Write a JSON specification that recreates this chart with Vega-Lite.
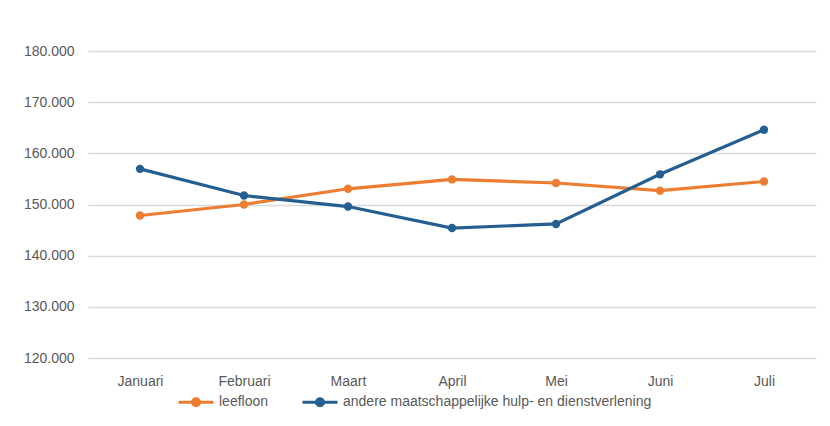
{
  "$schema": "https://vega.github.io/schema/vega-lite/v6.json",
  "autosize": "none",
  "width": 728,
  "height": 307,
  "padding": {"left": 88, "top": 51, "right": 14, "bottom": 68},
  "background": "white",
  "config": {
    "view": {"stroke": null},
    "font": "Liberation Sans",
    "axis": {"labelColor": "#595959", "labelFontSize": 14, "domain": false, "ticks": false, "title": null},
    "legend": {"labelColor": "#595959", "labelFontSize": 14, "labelLimit": 0}
  },
  "data": {
    "values": [
      {"maand": "Januari", "reeks": "leefloon", "aantal": 147850},
      {"maand": "Februari", "reeks": "leefloon", "aantal": 150000},
      {"maand": "Maart", "reeks": "leefloon", "aantal": 153070},
      {"maand": "April", "reeks": "leefloon", "aantal": 154900},
      {"maand": "Mei", "reeks": "leefloon", "aantal": 154200},
      {"maand": "Juni", "reeks": "leefloon", "aantal": 152700},
      {"maand": "Juli", "reeks": "leefloon", "aantal": 154500},
      {"maand": "Januari", "reeks": "andere maatschappelijke hulp- en dienstverlening", "aantal": 156970},
      {"maand": "Februari", "reeks": "andere maatschappelijke hulp- en dienstverlening", "aantal": 151760},
      {"maand": "Maart", "reeks": "andere maatschappelijke hulp- en dienstverlening", "aantal": 149600},
      {"maand": "April", "reeks": "andere maatschappelijke hulp- en dienstverlening", "aantal": 145400},
      {"maand": "Mei", "reeks": "andere maatschappelijke hulp- en dienstverlening", "aantal": 146200},
      {"maand": "Juni", "reeks": "andere maatschappelijke hulp- en dienstverlening", "aantal": 155900},
      {"maand": "Juli", "reeks": "andere maatschappelijke hulp- en dienstverlening", "aantal": 164600}
    ]
  },
  "encoding": {
    "x": {
      "field": "maand", "type": "nominal", "sort": null,
      "scale": {"paddingInner": 0, "paddingOuter": 0},
      "axis": {"labelAngle": 0, "labelPadding": 16, "grid": false}
    },
    "y": {
      "field": "aantal", "type": "quantitative",
      "scale": {"domain": [120000, 180000], "nice": false, "zero": false},
      "axis": {
        "values": [120000, 130000, 140000, 150000, 160000, 170000, 180000],
        "labelExpr": "replace(format(datum.value, ',.0f'), ',', '.')",
        "labelPadding": 14,
        "gridColor": "#d9d9d9", "gridWidth": 1.5
      }
    },
    "color": {
      "field": "reeks", "type": "nominal", "sort": null,
      "scale": {"domain": ["leefloon", "andere maatschappelijke hulp- en dienstverlening"], "range": ["#ED7D31", "#255E91"]},
      "legend": {
        "title": null, "orient": "none", "direction": "horizontal",
        "legendX": 89, "legendY": 332,
        "symbolType": "M-1,0H1M-0.2,0A0.2,0.2 0 1,1 0.2,0A0.2,0.2 0 1,1 -0.2,0Z",
        "symbolSize": 1225, "symbolStrokeWidth": 3,
        "labelOffset": 4, "columnPadding": 27
      }
    }
  },
  "layer": [
    {"mark": {"type": "line", "strokeWidth": 3.2}},
    {"mark": {"type": "point", "filled": true, "size": 70, "opacity": 1}}
  ]
}
